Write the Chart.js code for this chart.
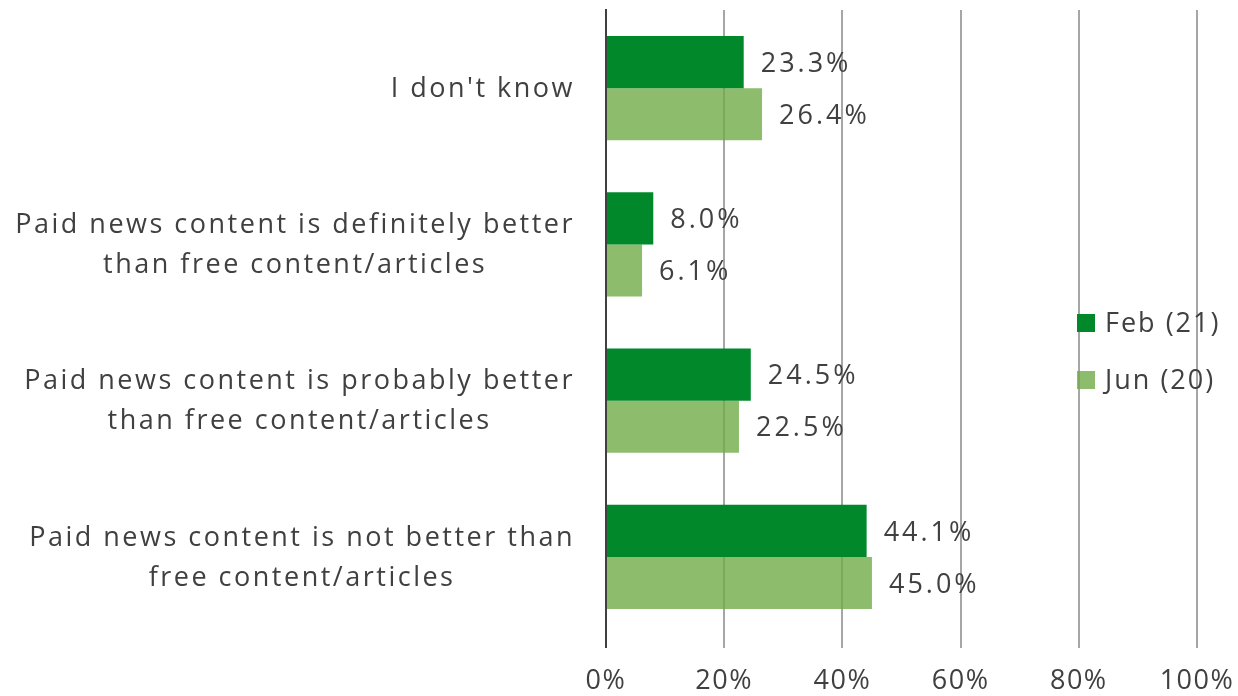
<!DOCTYPE html>
<html><head><meta charset="utf-8">
<script src="https://cdn.jsdelivr.net/npm/chart.js@4/dist/chart.umd.min.js"></script>
<style>html,body{margin:0;padding:0;background:#fff}#wrap{width:1238px;height:696px}</style>
</head><body><div id="wrap"><canvas id="c" width="1238" height="696"></canvas></div>
<script>
const categories = [
  ["I don't know"],
  ["Paid news content is definitely better", "than free content/articles"],
  ["Paid news content is probably better", "than free content/articles"],
  ["Paid news content is not better than", "free content/articles"]
];
const seriesNames = ["Feb (21)", "Jun (20)"];
const feb21 = [23.3, 8.0, 24.5, 44.1];
const jun20 = [26.4, 6.1, 22.5, 45.0];
const xTicks = [0, 20, 40, 60, 80, 100];

const FONT = "'Open Sans', sans-serif";
const TXT = '#404040';
const colors = ['#00882B', 'rgba(112,173,71,0.8)'];

const spacingPlugin = {
  id: 'spacing',
  beforeDraw(chart) { chart.ctx.letterSpacing = '1.5px'; }
};

const labelsPlugin = {
  id: 'customLabels',
  afterDraw(chart) {
    const ctx = chart.ctx;
    const y = chart.scales.y;
    ctx.save();
    ctx.font = '27px ' + FONT;
    ctx.fillStyle = TXT;
    ctx.textBaseline = 'middle';
    ctx.letterSpacing = '2.5px';
    ctx.textAlign = 'left';
    const right = 575, lh = 40;
    categories.forEach((lines, i) => {
      const cy = y.getPixelForValue(i) + 1;
      const widths = lines.map(l => ctx.measureText(l).width);
      const w = Math.max(...widths);
      const cx = right - w / 2;
      const y0 = cy - (lines.length - 1) * lh / 2;
      lines.forEach((l, j) => ctx.fillText(l, cx - widths[j] / 2, y0 + j * lh));
    });
    ctx.letterSpacing = '3px';
    chart.data.datasets.forEach((ds, di) => {
      const meta = chart.getDatasetMeta(di);
      meta.data.forEach((bar, i) => {
        ctx.fillText(ds.data[i].toFixed(1) + '%', bar.x + 17, bar.y + 2);
      });
    });
    ctx.letterSpacing = '2px';
    const lx = 1077, ly = [323, 380];
    chart.data.datasets.forEach((ds, di) => {
      ctx.fillStyle = ds.backgroundColor;
      ctx.fillRect(lx, ly[di] - 9, 18, 18);
      ctx.fillStyle = TXT;
      ctx.fillText(ds.label, lx + 28, ly[di] + 1);
    });
    ctx.restore();
  }
};

new Chart(document.getElementById('c'), {
  type: 'bar',
  data: {
    labels: categories,
    datasets: [
      { label: seriesNames[0], data: feb21, backgroundColor: colors[0], barPercentage: 1, categoryPercentage: 0.667 },
      { label: seriesNames[1], data: jun20, backgroundColor: colors[1], barPercentage: 1, categoryPercentage: 0.667 }
    ]
  },
  options: {
    indexAxis: 'y',
    responsive: false,
    animation: false,
    layout: { padding: { left: 0, right: 41, top: 10, bottom: 0 } },
    plugins: { legend: { display: false }, tooltip: { enabled: false } },
    scales: {
      x: {
        min: 0, max: 100,
        afterBuildTicks(s) { s.ticks = xTicks.map(v => ({ value: v })); },
        afterFit(s) { s.height = 61; s.paddingLeft = 0; s.paddingRight = 0; },
        grid: {
          color: c => c.index === 0 ? '#404040' : '#a6a6a6',
          lineWidth: 2,
          tickLength: 13,
          drawTicks: true
        },
        border: { display: false },
        ticks: {
          padding: 17,
          color: TXT,
          font: { family: FONT, size: 27 },
          callback: v => v + '%'
        }
      },
      y: {
        afterFit(s) { s.width = 606; },
        grid: { display: false },
        border: { display: true, color: '#404040', width: 2 },
        ticks: { display: false }
      }
    }
  },
  plugins: [spacingPlugin, labelsPlugin]
});
</script></body></html>
